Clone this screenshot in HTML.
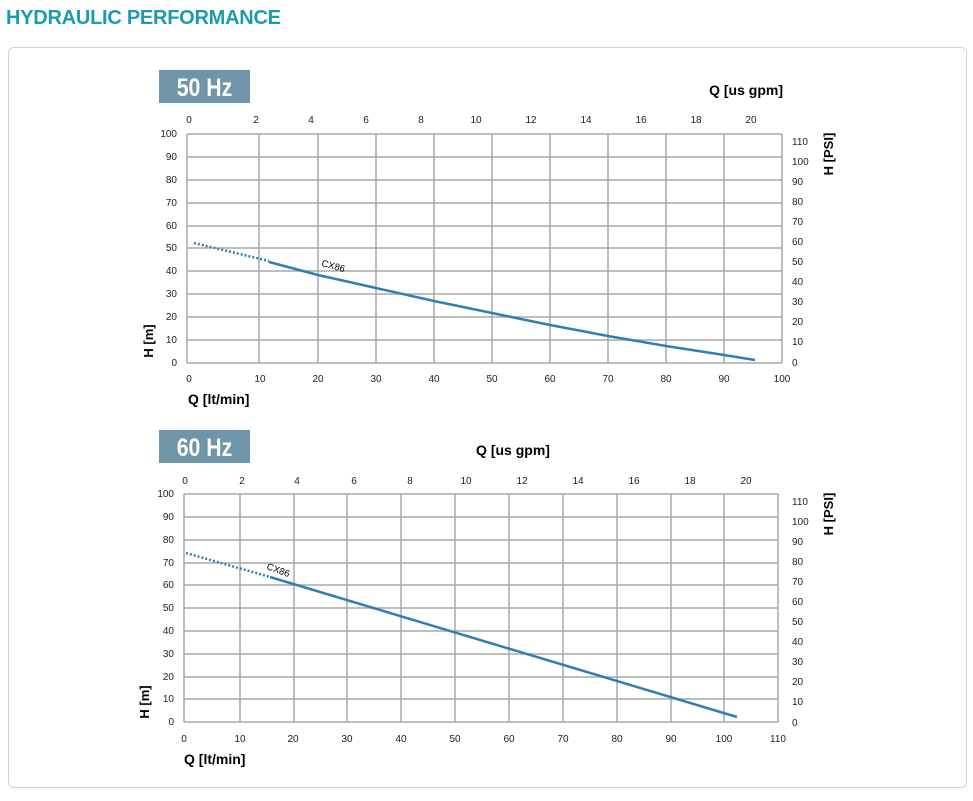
<!DOCTYPE html>
<html><head><meta charset="utf-8"><style>
body{margin:0;background:#fff;font-family:"Liberation Sans",sans-serif}
</style></head><body>
<svg width="973" height="796" xmlns="http://www.w3.org/2000/svg" font-family="Liberation Sans, sans-serif">
<text x="6" y="24" font-size="20" font-weight="bold" fill="#1c9bab" textLength="275">HYDRAULIC PERFORMANCE</text>
<rect x="8.5" y="47.5" width="958" height="740" rx="5" fill="#fff" stroke="#d4d4d4"/>

<!-- 50 Hz -->
<rect x="159" y="70" width="91" height="33" fill="#6f96a8"/>
<text x="204.5" y="96" font-size="25" font-weight="bold" fill="#fff" text-anchor="middle" transform="translate(204.5 0) scale(0.85 1) translate(-204.5 0)">50 Hz</text>
<text x="783" y="95" font-size="14" font-weight="bold" text-anchor="end">Q [us gpm]</text>
<g stroke="#a8a8a8" stroke-width="1.5">
<line x1="187" y1="134" x2="782" y2="134"/><line x1="187" y1="157" x2="782" y2="157"/><line x1="187" y1="180" x2="782" y2="180"/><line x1="187" y1="203" x2="782" y2="203"/><line x1="187" y1="226" x2="782" y2="226"/><line x1="187" y1="248" x2="782" y2="248"/><line x1="187" y1="271" x2="782" y2="271"/><line x1="187" y1="294" x2="782" y2="294"/><line x1="187" y1="317" x2="782" y2="317"/><line x1="187" y1="340" x2="782" y2="340"/><line x1="187" y1="363" x2="782" y2="363"/>
<line x1="187" y1="134" x2="187" y2="363"/><line x1="259" y1="134" x2="259" y2="363"/><line x1="318" y1="134" x2="318" y2="363"/><line x1="376" y1="134" x2="376" y2="363"/><line x1="434" y1="134" x2="434" y2="363"/><line x1="492" y1="134" x2="492" y2="363"/><line x1="550" y1="134" x2="550" y2="363"/><line x1="608" y1="134" x2="608" y2="363"/><line x1="666" y1="134" x2="666" y2="363"/><line x1="724" y1="134" x2="724" y2="363"/><line x1="782" y1="134" x2="782" y2="363"/>
</g>
<g font-size="10" fill="#222" text-anchor="middle">
<text x="189" y="123">0</text><text x="256" y="123">2</text><text x="311" y="123">4</text><text x="366" y="123">6</text><text x="421" y="123">8</text><text x="476" y="123">10</text><text x="531" y="123">12</text><text x="586" y="123">14</text><text x="641" y="123">16</text><text x="696" y="123">18</text><text x="751" y="123">20</text>
<text x="189" y="382">0</text><text x="260" y="382">10</text><text x="318" y="382">20</text><text x="376" y="382">30</text><text x="434" y="382">40</text><text x="492" y="382">50</text><text x="550" y="382">60</text><text x="608" y="382">70</text><text x="666" y="382">80</text><text x="724" y="382">90</text><text x="782" y="382">100</text>
</g>
<g font-size="10" fill="#222" text-anchor="end">
<text x="177" y="137">100</text><text x="177" y="160">90</text><text x="177" y="183">80</text><text x="177" y="206">70</text><text x="177" y="229">60</text><text x="177" y="251">50</text><text x="177" y="274">40</text><text x="177" y="297">30</text><text x="177" y="320">20</text><text x="177" y="343">10</text><text x="177" y="366">0</text>
</g>
<g font-size="10" fill="#222">
<text x="792" y="145">110</text><text x="792" y="165">100</text><text x="792" y="185">90</text><text x="792" y="205">80</text><text x="792" y="225">70</text><text x="792" y="245">60</text><text x="792" y="265">50</text><text x="792" y="285">40</text><text x="792" y="305">30</text><text x="792" y="325">20</text><text x="792" y="345">10</text><text x="792" y="366">0</text>
</g>
<text transform="translate(833 154) rotate(-90)" font-size="13" font-weight="bold" text-anchor="middle">H [PSI]</text>
<text transform="translate(153 341) rotate(-90)" font-size="13" font-weight="bold" text-anchor="middle">H [m]</text>
<text x="188" y="404" font-size="14" font-weight="bold">Q [lt/min]</text>
<polyline points="194,243 269,261" fill="none" stroke="#2f7fb5" stroke-width="2.5" stroke-dasharray="2,2"/>
<polyline points="269,262 318,275 376,288 434,301 492,313 550,325 608,336 666,346 724,355 755,360" fill="none" stroke="#2f7fb5" stroke-width="2.5"/>
<text transform="translate(321 266) rotate(15)" font-size="9.5">CX86</text>

<!-- 60 Hz -->
<rect x="159" y="430" width="91" height="33" fill="#6f96a8"/>
<text x="204.5" y="456" font-size="25" font-weight="bold" fill="#fff" text-anchor="middle" transform="translate(204.5 0) scale(0.85 1) translate(-204.5 0)">60 Hz</text>
<text x="513" y="455" font-size="14" font-weight="bold" text-anchor="middle">Q [us gpm]</text>
<g stroke="#a8a8a8" stroke-width="1.5">
<line x1="184" y1="494" x2="778" y2="494"/><line x1="184" y1="517" x2="778" y2="517"/><line x1="184" y1="540" x2="778" y2="540"/><line x1="184" y1="563" x2="778" y2="563"/><line x1="184" y1="585" x2="778" y2="585"/><line x1="184" y1="608" x2="778" y2="608"/><line x1="184" y1="631" x2="778" y2="631"/><line x1="184" y1="654" x2="778" y2="654"/><line x1="184" y1="677" x2="778" y2="677"/><line x1="184" y1="699" x2="778" y2="699"/><line x1="184" y1="722" x2="778" y2="722"/>
<line x1="184" y1="494" x2="184" y2="722"/><line x1="240" y1="494" x2="240" y2="722"/><line x1="294" y1="494" x2="294" y2="722"/><line x1="347" y1="494" x2="347" y2="722"/><line x1="401" y1="494" x2="401" y2="722"/><line x1="455" y1="494" x2="455" y2="722"/><line x1="509" y1="494" x2="509" y2="722"/><line x1="563" y1="494" x2="563" y2="722"/><line x1="617" y1="494" x2="617" y2="722"/><line x1="671" y1="494" x2="671" y2="722"/><line x1="724" y1="494" x2="724" y2="722"/><line x1="778" y1="494" x2="778" y2="722"/>
</g>
<g font-size="10" fill="#222" text-anchor="middle">
<text x="185" y="484">0</text><text x="242" y="484">2</text><text x="297" y="484">4</text><text x="354" y="484">6</text><text x="410" y="484">8</text><text x="466" y="484">10</text><text x="522" y="484">12</text><text x="578" y="484">14</text><text x="634" y="484">16</text><text x="690" y="484">18</text><text x="746" y="484">20</text>
<text x="184" y="742">0</text><text x="240" y="742">10</text><text x="293" y="742">20</text><text x="347" y="742">30</text><text x="401" y="742">40</text><text x="455" y="742">50</text><text x="509" y="742">60</text><text x="563" y="742">70</text><text x="617" y="742">80</text><text x="671" y="742">90</text><text x="724" y="742">100</text><text x="778" y="742">110</text>
</g>
<g font-size="10" fill="#222" text-anchor="end">
<text x="174" y="497">100</text><text x="174" y="520">90</text><text x="174" y="543">80</text><text x="174" y="566">70</text><text x="174" y="588">60</text><text x="174" y="611">50</text><text x="174" y="634">40</text><text x="174" y="657">30</text><text x="174" y="680">20</text><text x="174" y="702">10</text><text x="174" y="725">0</text>
</g>
<g font-size="10" fill="#222">
<text x="792" y="505">110</text><text x="792" y="525">100</text><text x="792" y="545">90</text><text x="792" y="565">80</text><text x="792" y="585">70</text><text x="792" y="605">60</text><text x="792" y="625">50</text><text x="792" y="645">40</text><text x="792" y="665">30</text><text x="792" y="685">20</text><text x="792" y="705">10</text><text x="792" y="726">0</text>
</g>
<text transform="translate(833 514) rotate(-90)" font-size="13" font-weight="bold" text-anchor="middle">H [PSI]</text>
<text transform="translate(149 702) rotate(-90)" font-size="13" font-weight="bold" text-anchor="middle">H [m]</text>
<text x="184" y="764" font-size="14" font-weight="bold">Q [lt/min]</text>
<polyline points="186,553 270,577" fill="none" stroke="#2f7fb5" stroke-width="2.5" stroke-dasharray="2,2"/>
<polyline points="270,577 737,717" fill="none" stroke="#2f7fb5" stroke-width="2.5"/>
<text transform="translate(266 569) rotate(20)" font-size="9.5">CX86</text>
</svg>
</body></html>
